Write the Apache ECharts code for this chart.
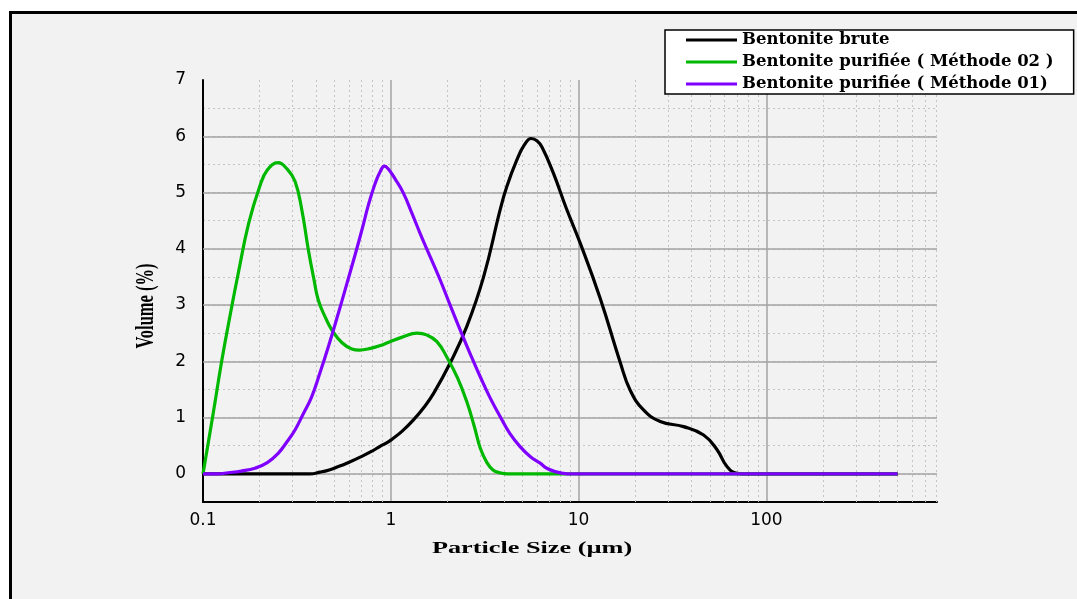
<!DOCTYPE html>
<html>
<head>
<meta charset="utf-8">
<script src="https://cdn.jsdelivr.net/npm/echarts@6/dist/echarts.min.js"></script>
<style>
  html, body { margin: 0; padding: 0; background: #ffffff; }
  #chart { width: 1077px; height: 599px; }
</style>
</head>
<body>
<div id="chart"></div>
<script>
// Particle size distributions (volume %) of raw and purified bentonite
const seriesNames = [
  'Bentonite brute',
  'Bentonite purifiée ( Méthode 02 )',
  'Bentonite purifiée ( Méthode 01)'
];

// Bentonite brute
const bruteSize = [0.1, 0.2, 0.3, 0.37, 0.42, 0.47, 0.526, 0.583, 0.701, 0.8, 0.877, 0.95,
  1.0, 1.15, 1.32, 1.5, 1.69, 2.07, 2.54, 3.12, 3.82, 4.14, 4.69, 5.15,
  5.59, 6.0, 6.4, 7.35, 8.6, 10.2, 13.0, 16.7, 18.8, 22.1, 27.2, 36.2,
  46.3, 54.6, 61.7, 69.7, 80, 100, 200, 500];
const bruteVolume = [0, 0, 0, 0, 0.03, 0.07, 0.13, 0.19, 0.31, 0.41, 0.49, 0.55,
  0.6, 0.76, 0.96, 1.18, 1.43, 1.97, 2.62, 3.50, 4.69, 5.10, 5.58, 5.85,
  5.96, 5.92, 5.8, 5.34, 4.72, 4.10, 3.13, 1.97, 1.49, 1.14, 0.93, 0.84,
  0.69, 0.43, 0.13, 0.01, 0, 0, 0, 0];

// Méthode 02
const m02Size = [0.1, 0.113, 0.126, 0.14, 0.154, 0.175, 0.2, 0.22, 0.251, 0.28, 0.309, 0.336,
  0.364, 0.39, 0.411, 0.447, 0.485, 0.55, 0.62, 0.68, 0.78, 0.88, 0.99, 1.15,
  1.38, 1.55, 1.76, 2.0, 2.27, 2.54, 2.78, 3.0, 3.25, 3.5, 3.8, 4.2,
  5, 10, 100, 500];
const m02Volume = [0, 1.05, 2.02, 2.85, 3.56, 4.45, 5.1, 5.4, 5.53, 5.42, 5.2, 4.69,
  3.98, 3.45, 3.09, 2.79, 2.56, 2.33, 2.22, 2.2, 2.23, 2.28, 2.35, 2.43,
  2.5, 2.47, 2.35, 2.06, 1.7, 1.28, 0.85, 0.45, 0.2, 0.07, 0.02, 0,
  0, 0, 0, 0];

// Méthode 01
const m01Size = [0.1, 0.12, 0.136, 0.16, 0.189, 0.22, 0.252, 0.28, 0.309, 0.34, 0.379, 0.42,
  0.465, 0.52, 0.571, 0.64, 0.701, 0.76, 0.825, 0.88, 0.925, 0.97, 1.05, 1.167,
  1.3, 1.43, 1.62, 1.83, 2.07, 2.34, 2.65, 2.99, 3.38, 3.82, 4.3, 4.88,
  5.52, 6.24, 6.77, 7.5, 8.3, 9, 10, 100, 500];
const m01Volume = [0, 0, 0.02, 0.05, 0.1, 0.2, 0.37, 0.57, 0.78, 1.05, 1.37, 1.8,
  2.26, 2.8, 3.27, 3.85, 4.33, 4.78, 5.16, 5.38, 5.47, 5.42, 5.25, 4.99,
  4.62, 4.28, 3.86, 3.45, 3.0, 2.56, 2.13, 1.73, 1.35, 1.02, 0.72, 0.485,
  0.31, 0.19, 0.10, 0.04, 0.01, 0, 0, 0, 0];

// Axis ticks and grid values
const xTickLabels = ['0.1', '1', '10', '100'];
const yTickLabels = ['0', '1', '2', '3', '4', '5', '6', '7'];
const majorGridY = [0, 1, 2, 3, 4, 5, 6];
const minorGridX = [0.2, 0.3, 0.4, 0.5, 0.6, 0.7, 0.8, 0.9,
  2, 3, 4, 5, 6, 7, 8, 9,
  20, 30, 40, 50, 60, 70, 80, 90,
  200, 300, 400, 500, 600, 700, 800];

const xTitle = 'Particle Size (µm)';
const yTitle = 'Volume (%)';

const zip = (xs, ys) => xs.map((x, i) => [x, ys[i]]);

const chart = echarts.init(document.getElementById('chart'), null, { renderer: 'canvas' });

const majorColor = '#a3a3a3';
const minorColor = '#c4c4c4';

const gridMarks = [
  ...majorGridY.map(v => ({ yAxis: v, lineStyle: { color: majorColor, width: 1.5, type: 'solid' } })),
  ...minorGridX.map(v => ({ xAxis: v, lineStyle: { color: minorColor, width: 1, type: [2, 3] } }))
];

function lineSeries(name, xs, ys, color) {
  return {
    name: name,
    type: 'line',
    data: zip(xs, ys),
    showSymbol: false,
    symbol: 'none',
    smooth: 0.45,
    z: 10,
    lineStyle: { color: color, width: 3.2 },
    itemStyle: { color: color }
  };
}

chart.setOption({
  animation: false,
  backgroundColor: 'transparent',
  graphic: [
    {
      type: 'rect',
      z: -100,
      silent: true,
      shape: { x: 10.5, y: 12.5, width: 1100, height: 640 },
      style: { fill: '#f2f2f2', stroke: '#000000', lineWidth: 3 }
    },
    {
      type: 'text',
      x: 532, y: 548,
      scaleX: 1.5,
      silent: true,
      style: {
        text: xTitle,
        font: 'bold 17.5px "Liberation Serif"',
        fill: '#000000',
        textAlign: 'center',
        textVerticalAlign: 'middle'
      }
    },
    {
      type: 'text',
      x: 147, y: 306,
      rotation: Math.PI / 2,
      scaleY: 1.5,
      silent: true,
      style: {
        text: yTitle,
        font: 'bold 16.5px "Liberation Serif"',
        fill: '#000000',
        textAlign: 'center',
        textVerticalAlign: 'middle'
      }
    }
  ],
  legend: {
    data: seriesNames,
    orient: 'vertical',
    left: 665,
    top: 30,
    icon: 'rect',
    itemWidth: 51,
    itemHeight: 3,
    itemGap: 4,
    padding: [1, 20, 1, 21],
    backgroundColor: '#ffffff',
    borderColor: '#000000',
    borderWidth: 1.5,
    borderRadius: 0,
    selectedMode: false,
    textStyle: {
      fontFamily: 'DejaVu Serif',
      fontWeight: 'bold',
      fontSize: 16.5,
      lineHeight: 18,
      color: '#000000'
    }
  },
  grid: { left: 203, right: 140, top: 80, bottom: 97, containLabel: false },
  xAxis: {
    type: 'log',
    logBase: 10,
    min: 0.1,
    max: 810,
    axisLine: { show: true, onZero: false, lineStyle: { color: '#000000', width: 2 } },
    axisTick: { show: false },
    axisLabel: {
      margin: 10,
      color: '#000000',
      fontFamily: 'DejaVu Sans',
      fontSize: 17,
      showMaxLabel: false,
      formatter: function (v) {
        const e = Math.round(Math.log10(v));
        if (Math.abs(Math.log10(v) - e) > 1e-6) return '';
        return xTickLabels[e + 1] || '';
      }
    },
    splitLine: { show: true, showMinLine: false, showMaxLine: false, lineStyle: { color: majorColor, width: 1.5 } }
  },
  yAxis: {
    type: 'value',
    min: -0.5,
    max: 7,
    interval: 0.5,
    axisLine: { show: true, onZero: false, lineStyle: { color: '#000000', width: 2 } },
    axisTick: { show: false },
    axisLabel: {
      interval: 0,
      margin: 17,
      color: '#000000',
      fontFamily: 'DejaVu Sans',
      fontSize: 17,
      formatter: function (v) {
        const r = Math.round(v);
        if (v < 0 || Math.abs(v - r) > 1e-6) return '';
        return yTickLabels[r] || '';
      }
    },
    splitLine: { show: true, showMinLine: false, showMaxLine: false, lineStyle: { color: minorColor, width: 1, type: [2, 3] } }
  },
  series: [
    {
      name: 'grid',
      type: 'line',
      data: [],
      z: 1,
      silent: true,
      markLine: {
        silent: true,
        symbol: 'none',
        z: 1,
        label: { show: false },
        animation: false,
        data: gridMarks
      }
    },
    lineSeries(seriesNames[0], bruteSize, bruteVolume, '#000000'),
    lineSeries(seriesNames[1], m02Size, m02Volume, '#00b800'),
    lineSeries(seriesNames[2], m01Size, m01Volume, '#8000ff')
  ]
});
</script>
</body>
</html>
